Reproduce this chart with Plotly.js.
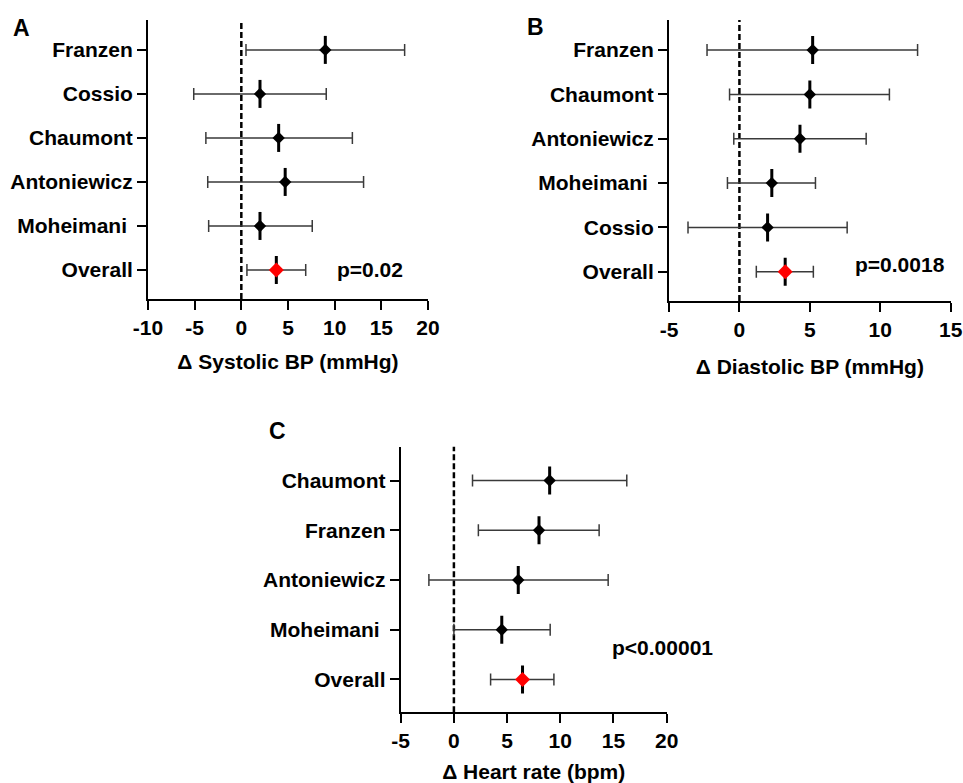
<!DOCTYPE html>
<html>
<head>
<meta charset="utf-8">
<script src="https://cdn.plot.ly/plotly-3.0.1.min.js"></script>
<style>html,body{margin:0;padding:0;background:#fff;}#chart{width:963px;height:783px;}</style>
</head>
<body>
<div id="chart"></div>
<script>
// Panel A: systolic BP (listed top to bottom)
const A_studies = ['Franzen', 'Cossio', 'Chaumont', 'Antoniewicz', 'Moheimani\u00a0', 'Overall'];
const A_mean = [9.0, 2.0, 4.0, 4.7, 2.0, 3.75];
const A_low  = [0.5, -5.1, -3.8, -3.6, -3.5, 0.6];
const A_high = [17.5, 9.1, 11.9, 13.1, 7.6, 6.9];
const A_ticks = [-10, -5, 0, 5, 10, 15, 20];
const A_tickText = ['-10', '-5', '0', '5', '10', '15', '20'];

// Panel B: diastolic BP
const B_studies = ['Franzen', 'Chaumont', 'Antoniewicz', 'Moheimani\u00a0', 'Cossio', 'Overall'];
const B_mean = [5.2, 5.0, 4.3, 2.3, 2.0, 3.25];
const B_low  = [-2.3, -0.7, -0.4, -0.85, -3.65, 1.2];
const B_high = [12.65, 10.65, 9.0, 5.4, 7.65, 5.25];
const B_ticks = [-5, 0, 5, 10, 15];
const B_tickText = ['-5', '0', '5', '10', '15'];

// Panel C: heart rate
const C_studies = ['Chaumont', 'Franzen', 'Antoniewicz', 'Moheimani\u00a0', 'Overall'];
const C_mean = [9.0, 8.0, 6.05, 4.5, 6.45];
const C_low  = [1.75, 2.3, -2.35, 0.0, 3.45];
const C_high = [16.25, 13.65, 14.5, 9.05, 9.4];
const C_ticks = [-5, 0, 5, 10, 15, 20];
const C_tickText = ['-5', '0', '5', '10', '15', '20'];

const FONT = 'Liberation Sans, Arial, Helvetica, sans-serif';
const FS = 21;
const traces = [];

function addPanel(studies, mean, low, high, xa, ya) {
  const plus = mean.map((m, i) => high[i] - m);
  const minus = mean.map((m, i) => m - low[i]);
  traces.push({
    type: 'scatter', mode: 'markers', x: mean, y: studies, xaxis: xa, yaxis: ya,
    marker: {symbol: 'line-ns', size: 20, color: '#000', line: {width: 3, color: '#000'}},
    error_x: {type: 'data', symmetric: false, array: plus, arrayminus: minus,
              color: '#3a3a3a', thickness: 1.5, width: 6},
    showlegend: false, hoverinfo: 'skip'
  });
  const studyX = [], studyY = [], ovX = [], ovY = [];
  studies.forEach((s, i) => {
    if (s === 'Overall') { ovX.push(mean[i]); ovY.push(s); }
    else { studyX.push(mean[i]); studyY.push(s); }
  });
  traces.push({
    type: 'scatter', mode: 'markers', x: studyX, y: studyY, xaxis: xa, yaxis: ya,
    marker: {symbol: 'diamond', size: 9.5, color: '#000'}, showlegend: false
  });
  traces.push({
    type: 'scatter', mode: 'markers', x: ovX, y: ovY, xaxis: xa, yaxis: ya,
    marker: {symbol: 'diamond', size: 11.5, color: '#ff0000'}, showlegend: false
  });
}

addPanel(A_studies, A_mean, A_low, A_high, 'x', 'y');
addPanel(B_studies, B_mean, B_low, B_high, 'x2', 'y2');
addPanel(C_studies, C_mean, C_low, C_high, 'x3', 'y3');

function xAxis(domain, range, ticks, text, title, anchor, standoff) {
  return {
    domain: domain, range: range, anchor: anchor,
    tickmode: 'array', tickvals: ticks, ticktext: text,
    showline: true, linewidth: 2, linecolor: '#000', mirror: false,
    ticks: 'outside', ticklen: 9, tickwidth: 2, tickcolor: '#000',
    showgrid: false, zeroline: false, fixedrange: true,
    tickfont: {family: FONT, size: FS, color: '#000', weight: 'bold'},
    title: {text: title, font: {family: FONT, size: FS, color: '#000', weight: 'bold'}, standoff: standoff}
  };
}
function yAxis(domain, studies, anchor) {
  return {
    domain: domain, type: 'category', anchor: anchor,
    categoryorder: 'array', categoryarray: studies.slice().reverse(),
    range: [-0.66, studies.length - 0.32],
    showline: true, linewidth: 2, linecolor: '#000', mirror: false,
    ticks: 'outside', ticklen: 9, tickwidth: 2, tickcolor: '#000',
    showgrid: false, zeroline: false, fixedrange: true,
    tickfont: {family: FONT, size: FS, color: '#000', weight: 'bold'}
  };
}

const dashLine = (xr, yr) => ({
  type: 'line', xref: xr, yref: yr + ' domain', x0: 0, x1: 0, y0: 0, y1: 1,
  line: {color: '#000', width: 2.5, dash: '6px,3px'}, layer: 'below'
});

const bold = {family: FONT, size: FS, color: '#000', weight: 'bold'};
const letter = {family: FONT, size: 23, color: '#000', weight: 'bold'};
const layout = {
  width: 963, height: 783,
  margin: {l: 0, r: 0, t: 0, b: 0},
  paper_bgcolor: '#fff', plot_bgcolor: '#fff',
  font: {family: FONT, size: FS, color: '#000', weight: 'bold'},
  xaxis: xAxis([0.1537, 0.4444], [-10, 20], A_ticks, A_tickText, '\u0394 Systolic BP (mmHg)', 'y', 16),
  yaxis: yAxis([0.6181, 0.9745], A_studies, 'x'),
  xaxis2: xAxis([0.6947, 0.9872], [-5, 15], B_ticks, B_tickText, '\u0394 Diastolic BP (mmHg)', 'y2', 19),
  yaxis2: yAxis([0.6156, 0.9745], B_studies, 'x2'),
  xaxis3: xAxis([0.4161, 0.6923], [-5, 20], C_ticks, C_tickText, '\u0394 Heart rate (bpm)', 'y3', 19),
  yaxis3: yAxis([0.0903, 0.4295], C_studies, 'x3'),
  shapes: [dashLine('x', 'y'), dashLine('x2', 'y2'), dashLine('x3', 'y3')],
  annotations: [
    {xref: 'x', yref: 'y', x: 10, y: 0, text: 'p=0.02', showarrow: false, xanchor: 'left', yanchor: 'middle', font: bold},
    {xref: 'x2', yref: 'y2', x: 8.1, y: 0.16, text: 'p=0.0018', showarrow: false, xanchor: 'left', yanchor: 'middle', font: bold},
    {xref: 'x3', yref: 'y3', x: 14.7, y: 0.65, text: 'p<0.00001', showarrow: false, xanchor: 'left', yanchor: 'middle', font: bold},
    {xref: 'paper', yref: 'paper', x: 11 / 963, y: 1 - 28 / 783, text: 'A', showarrow: false, xanchor: 'left', yanchor: 'middle', font: letter},
    {xref: 'paper', yref: 'paper', x: 525 / 963, y: 1 - 27 / 783, text: 'B', showarrow: false, xanchor: 'left', yanchor: 'middle', font: letter},
    {xref: 'paper', yref: 'paper', x: 267 / 963, y: 1 - 431 / 783, text: 'C', showarrow: false, xanchor: 'left', yanchor: 'middle', font: letter}
  ]
};

Plotly.newPlot('chart', traces, layout, {displayModeBar: false, staticPlot: true});
</script>
</body>
</html>
